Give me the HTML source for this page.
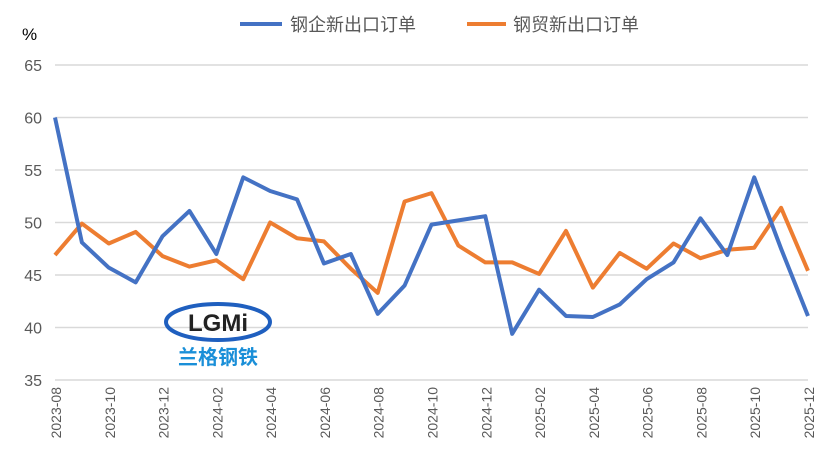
<!DOCTYPE html>
<html><head><meta charset="utf-8"><style>
body{margin:0;background:#fff;}
svg{display:block;font-family:"Liberation Sans","Noto Sans CJK SC",sans-serif;}
</style></head><body>
<svg id="c" width="827" height="473">
<text x="22" y="40" font-size="17" fill="#000">%</text>
<g>
<line x1="240" y1="24" x2="282" y2="24" stroke="#4472C4" stroke-width="4"/>
<text x="290" y="31" font-size="18" fill="#595959">钢企新出口订单</text>
<line x1="467" y1="24" x2="506" y2="24" stroke="#ED7D31" stroke-width="4"/>
<text x="513" y="31" font-size="18" fill="#595959">钢贸新出口订单</text>
</g>
<g id="grid"></g>
<g>
<ellipse cx="218" cy="322" rx="52" ry="18" fill="none" stroke="#1f5fbf" stroke-width="4"/>
<text x="218" y="331" font-size="24" font-weight="bold" text-anchor="middle" fill="#222">LGMi</text>
<text x="218" y="364" font-size="20" font-weight="bold" text-anchor="middle" fill="#1a8fd8">兰格钢铁</text>
</g>
<g id="lines"></g>
<g id="xt"></g>
</svg>
<script>
const months=["2023-08","2023-09","2023-10","2023-11","2023-12","2024-01","2024-02","2024-03","2024-04","2024-05","2024-06","2024-07","2024-08","2024-09","2024-10","2024-11","2024-12","2025-01","2025-02","2025-03","2025-04","2025-05","2025-06","2025-07","2025-08","2025-09","2025-10","2025-11","2025-12"];
const millOrders=[60.0,48.1,45.7,44.3,48.7,51.1,47.0,54.3,53.0,52.2,46.1,47.0,41.3,44.0,49.8,50.2,50.6,39.4,43.6,41.1,41.0,42.2,44.6,46.2,50.4,46.9,54.3,47.5,41.1];
const traderOrders=[46.9,49.9,48.0,49.1,46.8,45.8,46.4,44.6,50.0,48.5,48.2,45.6,43.3,52.0,52.8,47.8,46.2,46.2,45.1,49.2,43.8,47.1,45.6,48.0,46.6,47.4,47.6,51.4,45.4];
const yTicks=[35,40,45,50,55,60,65];
const NS="http://www.w3.org/2000/svg";
const x0=55,x1=808,yTop=65,yBot=380;
const xs=i=>x0+(x1-x0)*i/(months.length-1);
const ys=v=>yBot-(v-35)/30*(yBot-yTop);
const grid=document.getElementById('grid'),lines=document.getElementById('lines'),xt=document.getElementById('xt');
yTicks.forEach(t=>{
 if(t>35){const l=document.createElementNS(NS,'line');
 l.setAttribute('x1',x0);l.setAttribute('x2',x1);l.setAttribute('y1',ys(t));l.setAttribute('y2',ys(t));
 l.setAttribute('stroke','#d9d9d9');l.setAttribute('stroke-width','1.5');
 
 
 grid.appendChild(l);}
 const tx=document.createElementNS(NS,'text');
 tx.setAttribute('x',42);tx.setAttribute('y',ys(t)+6);tx.setAttribute('text-anchor','end');
 tx.setAttribute('font-size','16');tx.setAttribute('fill','#595959');tx.textContent=t;
 
 
 grid.appendChild(tx);
});
const ax=document.createElementNS(NS,'line');
ax.setAttribute('x1',x0);ax.setAttribute('x2',x1);ax.setAttribute('y1',yBot);ax.setAttribute('y2',yBot);
ax.setAttribute('stroke','#d9d9d9');ax.setAttribute('stroke-width','1.5');


grid.appendChild(ax);
function series(vals,color,name){
 const p=document.createElementNS(NS,'polyline');
 p.setAttribute('points',vals.map((v,i)=>xs(i)+','+ys(v)).join(' '));
 p.setAttribute('fill','none');p.setAttribute('stroke',color);p.setAttribute('stroke-width','4');
 p.setAttribute('stroke-linejoin','round');
 
 
 lines.appendChild(p);
}
series(traderOrders,'#ED7D31','trader-orders-line');
series(millOrders,'#4472C4','mill-orders-line');
months.forEach((m,i)=>{
 if(i%2)return;
 const t=document.createElementNS(NS,'text');
 t.setAttribute('transform','translate('+(xs(i)+6)+',387) rotate(-90)');
 t.setAttribute('text-anchor','end');t.setAttribute('font-size','14');t.setAttribute('fill','#595959');
 t.textContent=m;
 
 
 xt.appendChild(t);
});
</script>
</body></html>
